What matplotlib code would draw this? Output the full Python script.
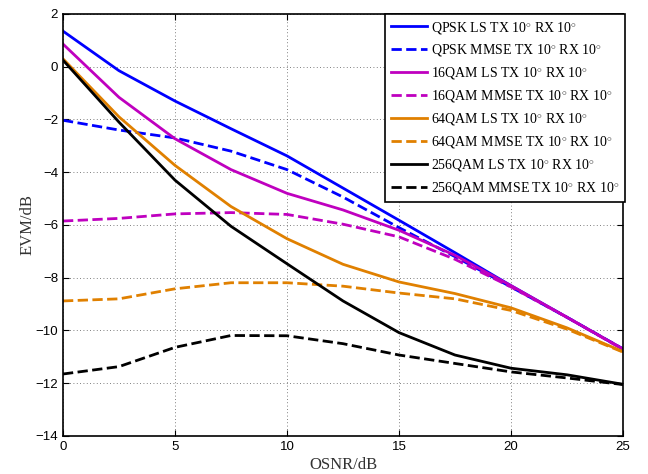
import numpy as np
import matplotlib.pyplot as plt

plt.rcParams['mathtext.fontset'] = 'custom'
plt.rcParams['mathtext.rm'] = 'Liberation Serif'
plt.rcParams['mathtext.it'] = 'Liberation Serif:italic'

osnr = [0, 2.5, 5, 7.5, 10, 12.5, 15, 17.5, 20, 22.5, 25]

qpsk_ls = [1.35, -0.15, -1.3, -2.35, -3.38, -4.6, -5.82, -7.05, -8.3, -9.5, -10.7]
qpsk_mmse = [-2.03, -2.4, -2.7, -3.2, -3.9, -4.94, -6.1, -7.2, -8.35, -9.5, -10.7]
qam16_ls = [0.86, -1.16, -2.73, -3.9, -4.8, -5.43, -6.2, -7.15, -8.3, -9.5, -10.7]
qam16_mmse = [-5.85, -5.75, -5.58, -5.53, -5.6, -5.97, -6.45, -7.3, -8.35, -9.5, -10.72]
qam64_ls = [0.3, -1.9, -3.74, -5.3, -6.52, -7.49, -8.16, -8.6, -9.14, -9.9, -10.8]
qam64_mmse = [-8.88, -8.8, -8.42, -8.19, -8.19, -8.32, -8.58, -8.8, -9.24, -9.95, -10.82]
qam256_ls = [0.25, -2.1, -4.3, -6.05, -7.47, -8.88, -10.08, -10.93, -11.43, -11.68, -12.04]
qam256_mmse = [-11.65, -11.37, -10.64, -10.19, -10.2, -10.5, -10.93, -11.25, -11.57, -11.8, -12.05]

deg = r'10$^{\circ}$'
labels = ['QPSK LS TX %s RX %s' % (deg, deg), 'QPSK MMSE TX %s RX %s' % (deg, deg),
          '16QAM LS TX %s RX %s' % (deg, deg), '16QAM MMSE TX %s RX %s' % (deg, deg),
          '64QAM LS TX %s RX %s' % (deg, deg), '64QAM MMSE TX %s RX %s' % (deg, deg),
          '256QAM LS TX %s RX %s' % (deg, deg), '256QAM MMSE TX %s RX %s' % (deg, deg)]
series = [qpsk_ls, qpsk_mmse, qam16_ls, qam16_mmse, qam64_ls, qam64_mmse, qam256_ls, qam256_mmse]
colors = ['#0000FF', '#0000FF', '#BF00BF', '#BF00BF', '#E08000', '#E08000', '#000000', '#000000']
styles = ['-', '--', '-', '--', '-', '--', '-', '--']

fig = plt.figure(figsize=(6.48, 4.74), dpi=100)
ax = fig.add_axes([0.0972, 0.0802, 0.8642, 0.8903])

for y, c, ls, lab in zip(series, colors, styles, labels):
    ax.plot(osnr, y, color=c, linestyle=ls, linewidth=2, label=lab)

ax.set_xlim(0, 25)
ax.set_ylim(-14, 2)
ax.set_xticks(np.arange(0, 26, 5))
ax.set_yticks(np.arange(-14, 3, 2))
ax.grid(True, linestyle=(0, (1, 3)), color='#555555', linewidth=0.6)
ax.tick_params(direction='in', labelsize=9.5, width=0.8, length=4, top=True, right=True)
for lbl in ax.get_xticklabels() + ax.get_yticklabels():
    lbl.set_family('Liberation Sans')
for sp in ax.spines.values():
    sp.set_linewidth(1.2)

ax.set_xlabel('OSNR/dB', family='Liberation Serif', fontsize=12, color='#333333', labelpad=3)
ax.set_ylabel('EVM/dB', family='Liberation Serif', fontsize=12, color='#333333', labelpad=0)

leg = ax.legend(loc='upper right', bbox_to_anchor=(1.004, 1.0), borderaxespad=0,
                prop={'family': 'Liberation Serif', 'size': 10}, fancybox=False,
                framealpha=1, edgecolor='black', handlelength=2.6, handletextpad=0.3,
                labelspacing=0.5, borderpad=0.4)
leg.get_frame().set_linewidth(1.2)

fig.savefig('out.png', dpi=100)
